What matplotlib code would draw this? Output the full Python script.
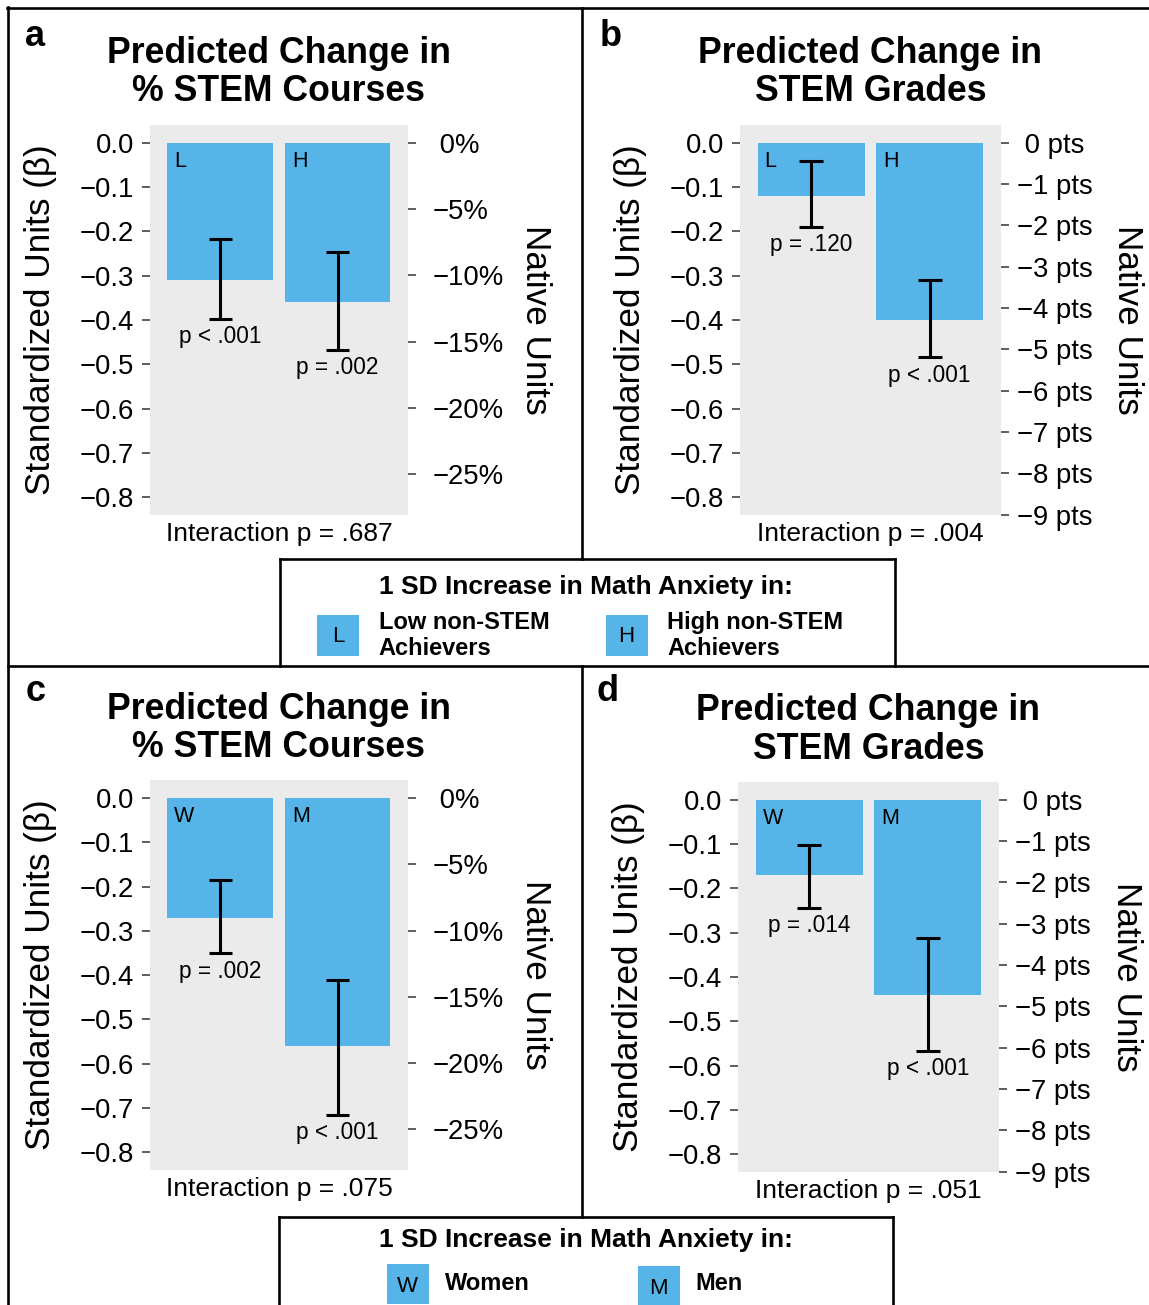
import numpy as np
import matplotlib
matplotlib.use("Agg")
import matplotlib.pyplot as plt
from matplotlib.lines import Line2D
from matplotlib.patches import Rectangle

plt.rcParams['font.family'] = ['Liberation Sans', 'DejaVu Sans']

# ---------------- data ----------------
groups_ab = ["L", "H"]
groups_cd = ["W", "M"]

a_beta = [-0.31, -0.36]
a_lo = [-0.397, -0.467]
a_hi = [-0.218, -0.247]
a_p = ["p < .001", "p = .002"]
a_inter = "Interaction p = .687"

b_beta = [-0.12, -0.40]
b_lo = [-0.190, -0.484]
b_hi = [-0.042, -0.309]
b_p = ["p = .120", "p < .001"]
b_inter = "Interaction p = .004"

c_beta = [-0.27, -0.56]
c_lo = [-0.351, -0.716]
c_hi = [-0.186, -0.410]
c_p = ["p = .002", "p < .001"]
c_inter = "Interaction p = .075"

d_beta = [-0.17, -0.44]
d_lo = [-0.244, -0.566]
d_hi = [-0.103, -0.313]
d_p = ["p = .014", "p < .001"]
d_inter = "Interaction p = .051"

beta_ticks = [0.0, -0.1, -0.2, -0.3, -0.4, -0.5, -0.6, -0.7, -0.8]
pct_per_sd = 33.4          # % STEM courses per standardized unit
pts_per_sd = 10.72         # grade points per standardized unit
pct_ticks = [0, -5, -10, -15, -20, -25]
pts_ticks = [0, -1, -2, -3, -4, -5, -6, -7, -8, -9]

title_courses = "Predicted Change in\n% STEM Courses"
title_grades = "Predicted Change in\nSTEM Grades"
legend_title = "1 SD Increase in Math Anxiety in:"
legend_ab = ["Low non-STEM\nAchievers", "High non-STEM\nAchievers"]
legend_cd = ["Women", "Men"]

BAR = "#56B4E9"
PANEL_BG = "#EBEBEB"

W, H = 1149, 1305
fig = plt.figure(figsize=(W / 100, H / 100), dpi=100)


def fx(x):
    return x / W


def fy(y):
    return 1 - y / H


def add_axes_px(x0, y0, x1, y1):
    return fig.add_axes([fx(x0), fy(y1), (x1 - x0) / W, (y1 - y0) / H])


def minus(s):
    return s.replace("-", "\u2212")


def draw_panel(rect, beta, lo, hi, codes, plabels, inter, title, scale,
               nticks, nfmt, rpad, letter, letter_xy):
    x0, y0, x1, y1 = rect
    ax = add_axes_px(x0, y0, x1, y1)
    ax.set_facecolor(PANEL_BG)
    x = np.arange(1, len(beta) + 1)
    ax.bar(x, beta, width=0.9, color=BAR, zorder=2)
    ax.vlines(x, lo, hi, color="black", lw=2.2, zorder=3)
    ax.hlines(lo, x - 0.1, x + 0.1, color="black", lw=2.2, zorder=3)
    ax.hlines(hi, x - 0.1, x + 0.1, color="black", lw=2.2, zorder=3)
    ax.set_xlim(0.4, 2.6)
    ax.set_ylim(-0.84, 0.04)
    ax.set_yticks(beta_ticks)
    ax.set_yticklabels([minus(f"{t:.1f}") for t in beta_ticks])
    ax.set_xticks([])
    for s in ax.spines.values():
        s.set_visible(False)
    ax.tick_params(axis="y", length=5.5, width=1.1, color="#333333",
                   labelsize=19.8, pad=6, labelcolor="black")
    for xi, c in zip(x, codes):
        ax.annotate(c, xy=(xi - 0.45, 0), xytext=(5, -13.3),
                    textcoords="offset points", ha="left", va="center",
                    fontsize=15.5, zorder=4)
    for xi, l, p in zip(x, lo, plabels):
        ax.annotate(p, xy=(xi, l), xytext=(0, -13),
                    textcoords="offset points", ha="center", va="center",
                    fontsize=16.3, zorder=4)
    ax.annotate(inter, xy=(0.5, 0), xycoords="axes fraction",
                xytext=(0, -14), textcoords="offset points",
                ha="center", va="center", fontsize=19)

    ax2 = ax.twinx()
    ax2.set_ylim(-0.84 * scale, 0.04 * scale)
    ax2.set_yticks(nticks)
    ax2.set_yticklabels([nfmt(t) for t in nticks])
    for s in ax2.spines.values():
        s.set_visible(False)
    ax2.tick_params(axis="y", length=5.5, width=1.1, color="#333333",
                    labelsize=19.8, pad=rpad, labelcolor="black")
    for lab in ax2.get_yticklabels():
        lab.set_horizontalalignment("left")

    cx = (x0 + x1) / 2
    cy = (y0 + y1) / 2
    fig.text(fx(cx), fy(72.8 + (y0 - 125)), title, ha="center", va="center",
             fontsize=25.7, fontweight="bold", linespacing=1.12)
    fig.text(fx(x0 - 109.5), fy(cy), "Standardized Units (\u03b2)",
             rotation=90, ha="center", va="center", fontsize=25.3)
    fig.text(fx(x1 + 127), fy(cy), "Native Units", rotation=270,
             ha="center", va="center", fontsize=25.3)
    fig.text(fx(letter_xy[0]), fy(letter_xy[1]), letter, ha="left",
             va="baseline", fontsize=26, fontweight="bold")
    return ax


def pct_fmt(t):
    return " 0%" if t == 0 else minus(f"{t}%")


def pts_fmt(t):
    return " 0 pts" if t == 0 else minus(f"{t} pts")


draw_panel((149.8, 125, 408.1, 515), a_beta, a_lo, a_hi, groups_ab, a_p,
           a_inter, title_courses, pct_per_sd, pct_ticks, pct_fmt, 12,
           "a", (25, 45.5))
draw_panel((740, 125, 1000.9, 515), b_beta, b_lo, b_hi, groups_ab, b_p,
           b_inter, title_grades, pts_per_sd, pts_ticks, pts_fmt, 6,
           "b", (600, 46.4))
draw_panel((149.8, 780.4, 408.1, 1169.8), c_beta, c_lo, c_hi, groups_cd,
           c_p, c_inter, title_courses, pct_per_sd, pct_ticks, pct_fmt, 12,
           "c", (26, 701))
draw_panel((737.8, 782.1, 999.1, 1171.9), d_beta, d_lo, d_hi, groups_cd,
           d_p, d_inter, title_grades, pts_per_sd, pts_ticks, pts_fmt, 6,
           "d", (596, 701))

# ---------------- frame lines ----------------
LW = 1.9


def hline(y, xa, xb):
    fig.add_artist(Line2D([fx(xa), fx(xb)], [fy(y), fy(y)], color="black",
                          lw=LW, transform=fig.transFigure))


def vline(x, ya, yb):
    fig.add_artist(Line2D([fx(x), fx(x)], [fy(ya), fy(yb)], color="black",
                          lw=LW, transform=fig.transFigure))


hline(8.3, 7.3, W + 5)
vline(8.3, 7.3, H + 5)
vline(581.5, 8.3, 559.3)
hline(665.5, 8.3, W + 5)
vline(581.5, 665.5, 1216.7)
# legend box 1
hline(559.3, 280, 895)
vline(280, 559.3, 665.5)
vline(895, 559.3, 665.5)
# legend box 2
hline(1216.7, 279, 893)
vline(279, 1216.7, H + 5)
vline(893, 1216.7, H + 5)

# ---------------- legends ----------------
fig.text(fx(586.4), fy(586.7), legend_title, ha="center", va="center",
         fontsize=19, fontweight="bold")
key_x_ab = [317.4, 605.5]
for kx, code, lab in zip(key_x_ab, groups_ab, legend_ab):
    fig.add_artist(Rectangle((fx(kx), fy(655.7)), 42 / W, 40.7 / H,
                             facecolor=BAR, edgecolor="none",
                             transform=fig.transFigure))
    fig.text(fx(kx + 21), fy(636.5), code, ha="center", va="center",
             fontsize=16)
    fig.text(fx(kx + 61.5), fy(635.5), lab, ha="left", va="center",
             fontsize=17, fontweight="bold", linespacing=1.15)

fig.text(fx(586), fy(1240), legend_title, ha="center", va="center",
         fontsize=19, fontweight="bold")
key_x_cd = [386.5, 637.6]
key_y_cd = [1264, 1266]
for kx, ky, code, lab in zip(key_x_cd, key_y_cd, groups_cd, legend_cd):
    fig.add_artist(Rectangle((fx(kx), fy(ky + 40)), 42.5 / W, 40 / H,
                             facecolor=BAR, edgecolor="none",
                             transform=fig.transFigure))
    fig.text(fx(kx + 21), fy(ky + 23), code, ha="center", va="center",
             fontsize=16)
    fig.text(fx(kx + 58), fy(1283.3), lab, ha="left", va="center",
             fontsize=17, fontweight="bold")

fig.savefig("out.png", dpi=100)
